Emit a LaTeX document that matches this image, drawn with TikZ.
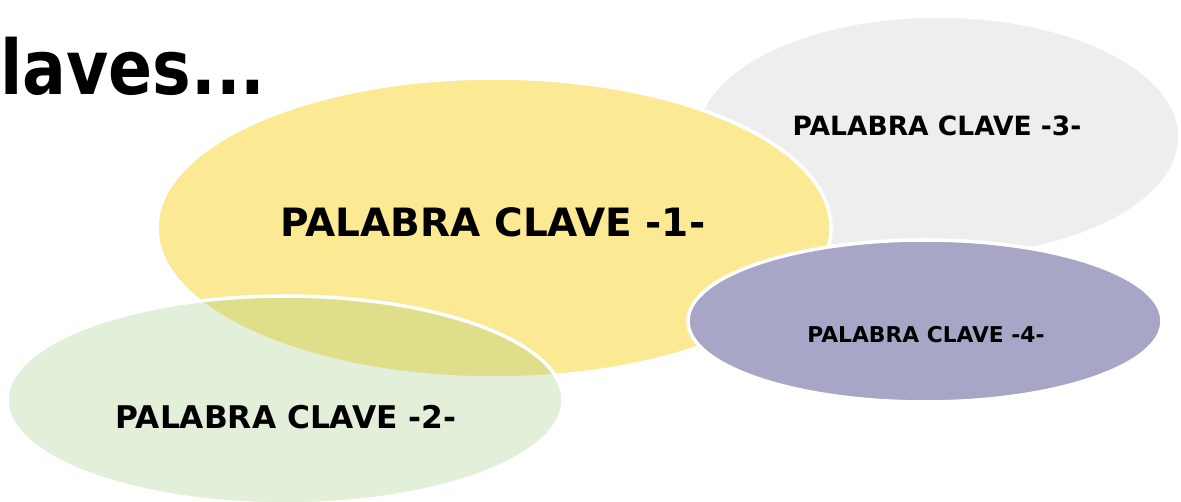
\documentclass[tikz,border=0pt]{standalone}
\usepackage{fontspec}
\usepackage{xcolor}
\usepackage{tikz}
\usetikzlibrary{shapes.geometric}
\setmainfont{DejaVu Sans}
\definecolor{kwyellow}{RGB}{252,233,148}
\definecolor{kwgreen}{RGB}{151,198,119}
\definecolor{kwgray}{RGB}{238,238,238}
\definecolor{kwpurple}{RGB}{167,166,198}

\begin{document}
\begin{tikzpicture}[x=0.02cm,y=-0.02cm]
\tikzstyle{every node}+=[inner sep=0pt]
\tikzstyle{blob}=[draw=white, line width=2pt]
\tikzstyle{kw}=[font=\bfseries, text=black]
\useasboundingbox (0,0) rectangle (1181,502);
\clip (0,0) rectangle (1181,502);
% ellipses, back to front
\draw [blob, fill=kwgray] (938,137) ellipse (242 and 121);
\draw [blob, fill=kwyellow] (494,228) ellipse (337 and 150);
\draw [blob, fill=kwgreen, fill opacity=0.28] (285,400) ellipse (278 and 104);
\draw [blob, fill=kwpurple] (925,321) ellipse (237 and 81);
% labels
\node [kw, font=\bfseries\fontsize{22.2}{24}\selectfont] (k1) at (493,222) {PALABRA CLAVE -1-};
\node [kw, font=\bfseries\fontsize{17.8}{20}\selectfont] (k2) at (286,417) {PALABRA CLAVE -2-};
\node [kw, font=\bfseries\fontsize{15.1}{17}\selectfont] (k3) at (937,126) {PALABRA CLAVE -3-};
\node [kw, font=\bfseries\fontsize{12.4}{14}\selectfont] (k4) at (926,335) {PALABRA CLAVE -4-};
\node [kw, font=\bfseries\fontsize{43}{48}\selectfont, anchor=base west] (title) at (0,95) {\scalebox{0.86}[1]{laves...}};
\end{tikzpicture}
\end{document}
